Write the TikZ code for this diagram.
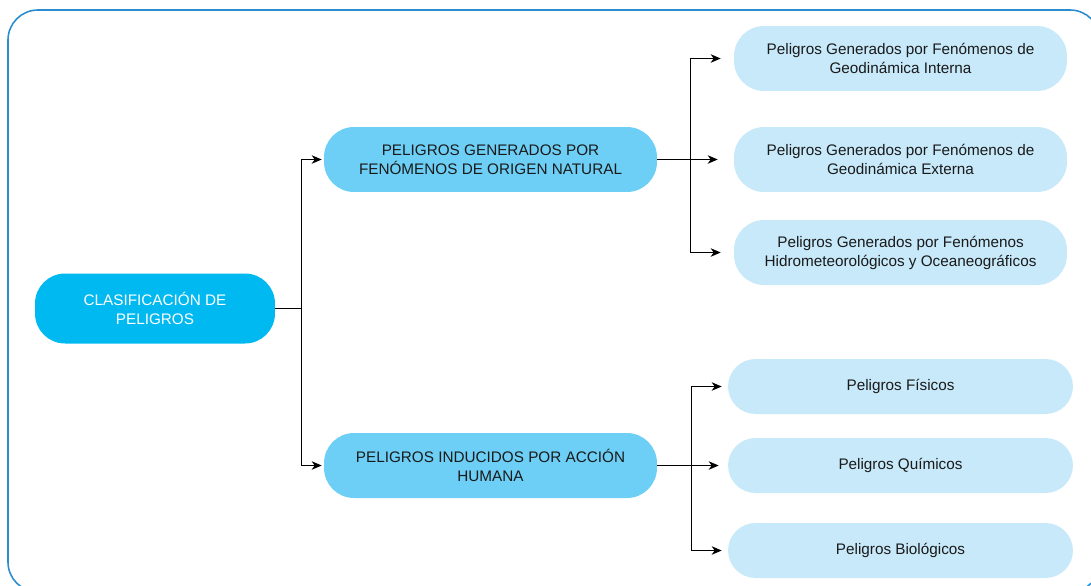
\documentclass[tikz,border=0pt]{standalone}
\usepackage{fontspec}
\setmainfont{Liberation Sans}
\usetikzlibrary{arrows.meta}
\definecolor{frameblue}{HTML}{2A8DD0}
\definecolor{rootblue}{HTML}{00B9F1}
\definecolor{midblue}{HTML}{6DCFF6}
\definecolor{leafblue}{HTML}{C7E9F9}
\definecolor{textgray}{HTML}{1A1A1A}

\begin{document}
\begin{tikzpicture}[x=0.02cm,y=-0.02cm,
  box/.style={rounded corners=0.6cm,align=center,inner sep=0pt,
    font=\fontsize{8.7}{10.8}\selectfont,text=textgray},
  rootbox/.style={box,fill=rootblue,text=white,minimum width=4.8cm,minimum height=1.4cm},
  midbox/.style={box,fill=midblue,minimum width=6.66cm,minimum height=1.3cm},
  leafbox/.style={box,fill=leafblue,minimum width=6.66cm,minimum height=1.3cm},
  smallleaf/.style={box,fill=leafblue,rounded corners=0.55cm,minimum width=6.9cm,minimum height=1.1cm},
  link/.style={-{Stealth[length=2mm,width=1.7mm,inset=0.6mm]},line width=0.6pt}]
\useasboundingbox (0,0) rectangle (1091,585);
\clip (0,0) rectangle (1091,585);
\draw[frameblue,line width=0.9pt,rounded corners=0.6cm] (8,10) rectangle (1100,592);

\node[rootbox] (root) at (155,308.5) {CLASIFICACIÓN DE\\PELIGROS};
\node[midbox] (natural) at (490.5,159.5) {PELIGROS GENERADOS POR\\FENÓMENOS DE ORIGEN NATURAL};
\node[midbox] (humana) at (490.5,465.5) {PELIGROS INDUCIDOS POR ACCIÓN\\HUMANA};

\node[leafbox] (interna) at (900.5,58.5) {Peligros Generados por Fenómenos de\\Geodinámica Interna};
\node[leafbox] (externa) at (900.5,159.5) {Peligros Generados por Fenómenos de\\Geodinámica Externa};
\node[leafbox] (hidro) at (900.5,252.5) {Peligros Generados por Fenómenos\\Hidrometeorológicos y Oceaneográficos};

\node[smallleaf] (fisicos) at (900.5,386.5) {Peligros Físicos};
\node[smallleaf] (quimicos) at (900.5,465.5) {Peligros Químicos};
\node[smallleaf] (biologicos) at (900.5,550.5) {Peligros Biológicos};

\draw[link,shorten >=0.04cm] (root.east) -- ++(26,0) |- (natural.west);
\draw[link,shorten >=0.04cm] (root.east) -- ++(26,0) |- (humana.west);

\draw[link,shorten >=0.26cm] (natural.east) -- ++(33,0) |- (interna.west);
\draw[link,shorten >=0.32cm] (natural.east) -- (externa.west);
\draw[link,shorten >=0.26cm] (natural.east) -- ++(33,0) |- (hidro.west);

\draw[link,shorten >=0.12cm] (humana.east) -- ++(34,0) |- (fisicos.west);
\draw[link,shorten >=0.18cm] (humana.east) -- (quimicos.west);
\draw[link,shorten >=0.12cm] (humana.east) -- ++(34,0) |- (biologicos.west);
\end{tikzpicture}
\end{document}
